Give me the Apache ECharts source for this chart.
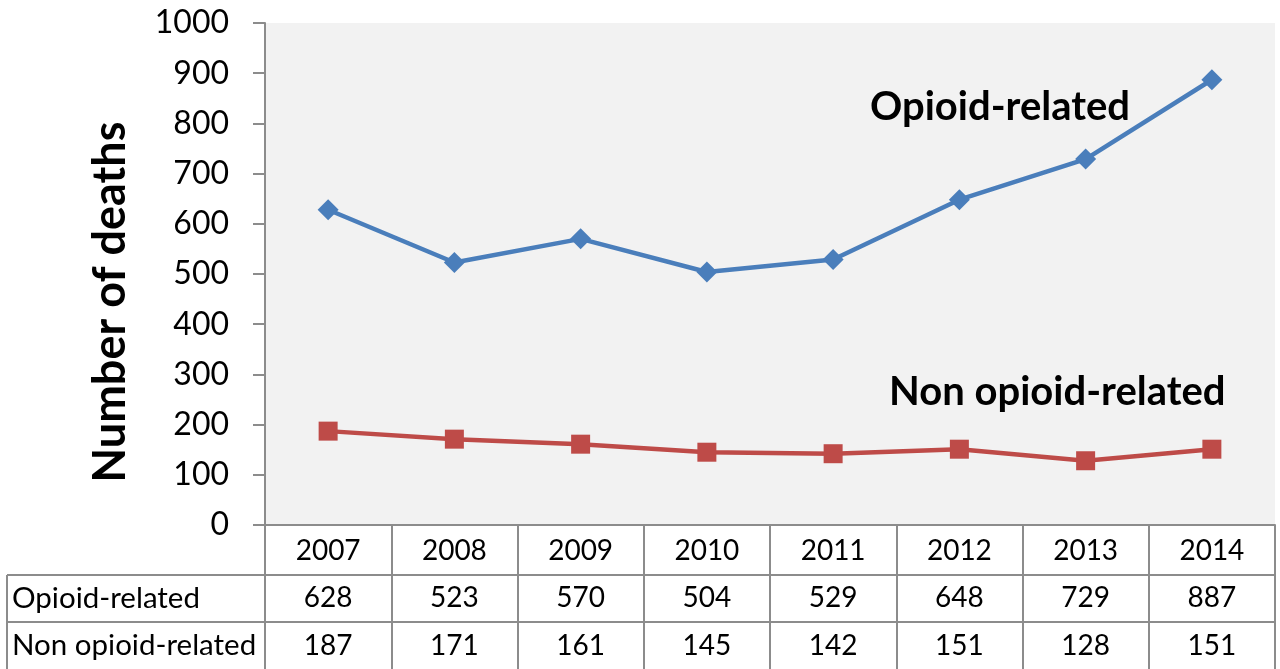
<!DOCTYPE html>
<html><head><meta charset="utf-8">
<script src="https://cdn.jsdelivr.net/npm/echarts@6/dist/echarts.min.js"></script>
<style>html,body{margin:0;padding:0;background:#fff}#c{width:1280px;height:669px}</style>
</head><body><div id="c"></div>
<script>
const years = ['2007','2008','2009','2010','2011','2012','2013','2014'];
const opioid = [628,523,570,504,529,648,729,887];
const nonOpioid = [187,171,161,145,142,151,128,151];
const rowNames = ['Opioid-related','Non opioid-related'];
const yTicks = {min:0, max:1000, interval:100};

const FONT = 'Lato';
const grey = '#8c8c8c';
const chart = echarts.init(document.getElementById('c'));
chart.setOption({
  animation:false,
  grid:{left:265,right:5,top:23,bottom:144,show:true,backgroundColor:'#f2f2f2',borderWidth:0},
  xAxis:{type:'category',data:years,boundaryGap:true,
    axisLine:{lineStyle:{color:grey,width:2}},
    axisTick:{show:true,length:144,lineStyle:{color:grey,width:2}},
    axisLabel:{interval:0,margin:2,
      formatter:(v,i)=>`{a|${v}}\n{a|${opioid[i]}}\n{a|${nonOpioid[i]}}`,
      rich:{a:{fontFamily:FONT,fontSize:28,lineHeight:47.5,color:'#000'}}}},
  yAxis:{type:'value',min:yTicks.min,max:yTicks.max,interval:yTicks.interval,
    name:'Number of deaths',nameLocation:'middle',nameGap:132,nameRotate:90,
    nameTextStyle:{fontFamily:FONT,fontWeight:'bold',fontSize:45,color:'#000',padding:[0,56,0,0]},
    axisLine:{show:true,lineStyle:{color:grey,width:2}},
    axisTick:{show:true,length:12,lineStyle:{color:grey,width:2}},
    splitLine:{show:false},
    axisLabel:{margin:36,fontFamily:FONT,fontSize:32,color:'#000',formatter:v=>String(v)}},
  series:[
    {name:rowNames[0],type:'line',data:opioid,symbol:'diamond',symbolSize:21,
     lineStyle:{color:'#4a7ebb',width:4.5},itemStyle:{color:'#4a7ebb'}},
    {name:rowNames[1],type:'line',data:nonOpioid,symbol:'rect',symbolSize:19,
     lineStyle:{color:'#be4b48',width:4.5},itemStyle:{color:'#be4b48'}}
  ],
  graphic:[
    {type:'text',x:870,y:107,style:{text:rowNames[0],fontFamily:FONT,fontWeight:'bold',fontSize:40,fill:'#000',textVerticalAlign:'middle'}},
    {type:'text',x:889,y:392,style:{text:rowNames[1],fontFamily:FONT,fontWeight:'bold',fontSize:40,fill:'#000',textVerticalAlign:'middle'}},
    {type:'line',shape:{x1:7,y1:575,x2:1275,y2:575},style:{stroke:grey,lineWidth:2}},
    {type:'line',shape:{x1:7,y1:622,x2:1275,y2:622},style:{stroke:grey,lineWidth:2}},
    {type:'line',shape:{x1:7,y1:575,x2:7,y2:669},style:{stroke:grey,lineWidth:2}},
    {type:'text',x:12,y:598,style:{text:rowNames[0],fontFamily:FONT,fontSize:29.5,fill:'#000',textVerticalAlign:'middle'}},
    {type:'text',x:12,y:645,style:{text:rowNames[1],fontFamily:FONT,fontSize:29.5,fill:'#000',textVerticalAlign:'middle'}}
  ]
});
</script></body></html>
